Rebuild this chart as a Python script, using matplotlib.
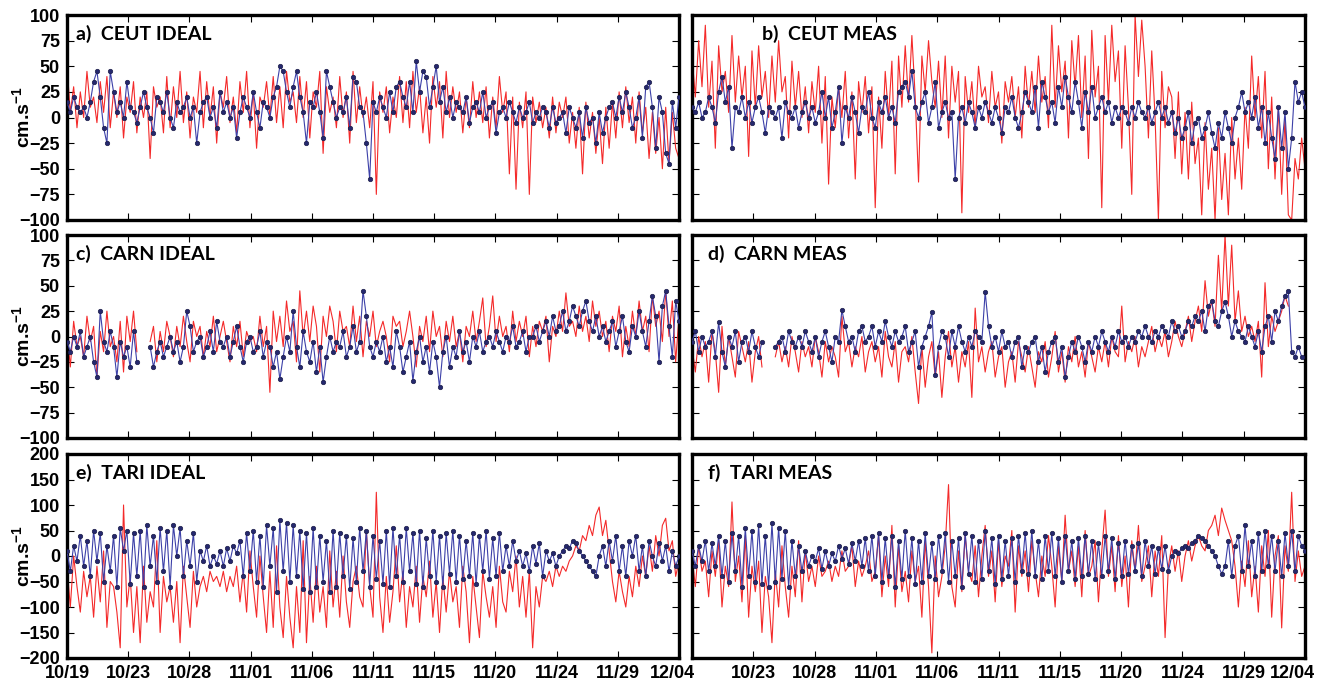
import numpy as np
import matplotlib.pyplot as plt
from matplotlib.transforms import ScaledTranslation

nan = np.nan

# 6-hourly samples, 10/19 .. 12/04 (4 values per day)
ceut_ideal_red = [
    50, 5, 30, -10, 25, 0, 45, 10, 20, -5, 35, 5, 40, -10, 25, 0,
    30, -20, 20, 5, 35, -15, 20, 0, 25, -40, 30, 10, 20, -15, 40, -10,
    30, 0, 45, -5, 25, -20, 20, 5, 45, -10, 35, 0, 30, -25, 25, 10,
    40, -5, 20, -15, 35, 5, 45, -10, 25, -30, 20, 10, 35, 0, 40, -5,
    30, -10, 45, 15, 25, -5, 40, 0, 35, -20, 25, 10, 45, -35, 30, 5,
    20, -10, 40, 0, 25, -25, 45, -5, 30, 0, 20, -10, 35, -75, 25, 5,
    30, -15, 20, 0, 40, -5, 35, -10, 45, 5, 30, -15, 20, -25, 40, 10,
    35, -20, 45, 0, 30, 5, 25, -15, 20, -10, 35, 0, 25, -5, 30, -20,
    20, -10, 40, 5, 25, -55, 20, -70, 15, -10, 25, -75, 20, -5, 15, -10,
    10, -20, 20, -15, 15, 0, 20, -25, 5, -30, 10, -55, 15, -20, 5, -35,
    0, -45, 10, -30, 15, -20, 25, -10, 30, -5, 20, -25, 25, -15, 10, -40,
    5, -35, 0, -50, 10, -45, 5, -30, -40]
ceut_ideal_blue = [
    15, 5, 20, 10, 5, 10, 0, 15, 35, 45, 20, -10, -25, 45, 25, 5,
    15, 0, 35, 10, 5, -5, 10, 25, 10, 0, -15, 20, 15, 5, 25, 0,
    -10, 15, 5, 10, 20, 0, 10, -25, 5, 15, 20, 0, 10, -10, 25, 5,
    15, 0, 10, -20, 5, 20, 10, 0, 25, 5, -10, 15, 10, 0, 20, 30,
    50, 45, 25, 10, 30, 45, 20, 5, -25, 15, 10, 25, 5, -20, 45, 30,
    15, 0, 10, 5, 20, -10, 40, 35, 10, 5, -25, -60, 15, 5, 20, 10,
    0, 25, 5, 30, 35, 20, 10, 35, 5, 55, 25, 45, 40, 10, 30, 50,
    15, 30, 5, 20, 0, 15, 10, 5, 20, -5, 10, 15, 5, 25, 0, 10,
    15, -15, 5, 10, 0, 15, 5, -5, 10, 0, 5, 15, -5, 5, 0, 10,
    5, -10, 10, -5, 0, 5, -15, 10, 0, -10, 5, -20, 10, -5, 0, -25,
    5, -15, 0, 10, 15, 0, 20, 5, 25, 10, -10, 0, 20, -20, 30, 35,
    10, -30, 20, 5, -35, -45, 15, -10, 20]

ceut_meas_red = [
    60, 20, 75, 30, 90, 10, 55, -30, 70, 25, 45, 5, 80, 15, 60, 20,
    50, -38, 65, 10, 70, 20, 45, 0, 60, 15, 75, 25, 40, -20, 55, 10,
    45, 0, 30, -15, 35, 5, 50, -25, 40, -65, 20, -10, 30, 0, 45, -20,
    25, -60, 35, 5, 40, -15, 30, -88, 20, -30, 45, 0, 55, -55, 60, 10,
    70, 15, 80, 20, -63, 60, 25, 75, 35, 10, 55, 0, 60, -20, 50, 15,
    45, -93, 40, 5, 35, -10, 50, 20, 30, -5, 45, 10, 25, -25, 35, 15,
    40, 0, 30, -20, 50, 10, 45, 5, 60, 15, 40, -10, 90, 10, 70, 25,
    55, -20, 75, 30, 80, 0, 60, -40, 85, 20, 50, -88, 80, 15, 90, 35,
    65, -30, 70, 10, -75, 100, 40, 95, 50, -20, 65, 0, -100, 45, -10, 30,
    20, -40, 25, -55, 5, -60, 15, -45, -20, -95, -5, -70, -30, -100, -10, -80,
    -35, -95, 0, -60, -20, -70, 10, -30, 60, 0, 40, -20, 45, -50, 20, -60,
    10, -75, 0, -95, -100, -40, -60, -20, -50]
ceut_meas_blue = [
    10, 5, 15, 0, 5, 20, 10, -5, 25, 40, 15, 30, -30, 10, 5, 20,
    0, 15, -5, 10, 20, 5, -15, 10, 5, 0, 10, -20, 15, 5, 0, 10,
    -10, 5, 15, 0, 10, -5, 5, 25, 0, 20, -10, 5, 30, -25, 10, 0,
    20, 5, -15, 10, 5, 25, 0, -10, 15, 5, 20, 0, 10, -5, 25, 30,
    35, 20, 45, 10, 0, 15, 25, -5, 10, 35, -10, 5, 15, 0, 5, -60,
    0, 10, -5, 15, 5, -10, 10, 0, 15, 5, -5, 10, 0, -15, 10, 5,
    20, 0, -10, 5, 25, 15, 5, 30, -10, 35, 20, 5, 15, -5, 30, 10,
    40, 20, 5, 35, 15, -10, 25, 5, 30, 0, 10, 20, 5, 15, -5, 10,
    0, 10, 5, -5, 10, 0, 15, 5, 0, 10, -5, 5, 15, 0, 10, -5,
    5, -15, 0, -20, -10, 5, -25, -5, 0, -20, -10, 5, -15, -30, -5, -20,
    5, -10, -25, 0, 10, 25, 5, 15, 0, 20, -10, 10, -25, 5, -20, -40,
    10, -30, 5, -50, -20, 35, 15, 25, 10]

carn_ideal_red = [
    5, -30, 15, -10, 0, -20, 20, -5, 10, -40, 5, -15, 25, -10, 0, -25,
    15, -35, 20, -5, 25, -15, nan, nan, nan, -5, 10, -25, 5, -15, 15, 0,
    -20, 10, -10, 20, -5, -25, 15, 0, 10, -20, 5, -10, 20, -15, 0, 15,
    -5, -25, 10, -10, 15, -20, 5, -5, 0, -15, 20, -10, 10, -55, 25, -5,
    20, -10, 35, 5, 15, -25, 45, 0, 25, -5, 30, 10, -35, 20, 0, 30,
    15, -15, 25, 5, 10, -10, 30, -5, 20, -20, 15, 0, 25, -10, 5, 15,
    0, -25, 20, 10, 15, -10, 5, 25, 0, -30, 10, -5, 20, -15, 25, 0,
    10, -20, 15, -5, 20, -10, 5, -25, 10, 0, 25, -5, 15, 38, -10, 10,
    40, -5, 20, 0, 10, -15, 25, -5, 15, 0, 20, -20, 10, -10, 15, 5,
    20, -25, 10, 0, 25, 5, 43, 10, 15, 0, 30, 5, 20, -5, 35, 10,
    25, 0, 15, -15, 20, 5, 30, -20, 10, -10, 25, 0, 35, 5, 20, -15,
    40, 10, 25, -5, 45, 0, 35, -25, 20]
carn_ideal_blue = [
    -5, -15, 0, -10, 5, -20, -10, 0, -25, -40, 25, -5, -15, 5, -10, -40,
    -5, -20, -10, -30, 5, -25, nan, nan, nan, -10, -30, -15, -5, -20, -10, 0,
    -15, -5, -25, -10, 25, 10, -15, -5, 0, -20, -10, 5, -15, 15, -5, -10,
    0, -20, -5, 10, -10, -25, -5, 0, -15, -10, 5, -20, -5, -10, -30, -15,
    -42, -20, 0, -15, 25, -10, -30, 5, -15, -25, -5, -35, -10, -45, -20, 0,
    -15, -5, -10, 5, -20, -10, 10, -15, -5, 45, 20, -10, -20, -5, -15, 0,
    -25, -10, -30, 5, -10, -35, -20, -5, -44, -15, 0, -25, -10, -35, -5, -20,
    -50, -15, 0, -30, -10, -20, 5, -15, -5, -25, 0, -10, 5, -15, -5, 0,
    -10, 5, -5, -15, 0, -5, 10, -10, -5, 5, -15, 0, 0, 10, -5, 5,
    15, 0, 20, 5, 10, 25, 5, 15, 30, 20, 10, 25, 35, 15, 5, 20,
    0, 10, -5, 5, 15, -10, 5, 20, -5, -15, 10, 0, 25, 5, -10, 15,
    40, 20, -25, 30, 45, 10, -20, 35, 15]

carn_meas_red = [
    -10, -35, 0, -20, -5, -45, 5, -15, -55, 10, -30, 0, -20, -40, 5, -10,
    -25, -5, -45, -15, 0, -30, nan, nan, nan, -20, -5, -25, -10, -30, 0, -15,
    -35, -5, -20, -10, -30, 0, -15, -40, -5, -25, -10, -20, -40, 20, -15, -5,
    -30, -10, -20, 0, -35, -15, -5, -25, -10, -40, 5, -20, -30, -5, -45, -15,
    -10, -25, 0, -35, -66, -10, -50, -20, -5, -40, -15, -60, -20, 5, -30, -10,
    -45, -15, -30, -5, -60, 28, -25, -10, -35, -15, -5, -40, -20, -10, -50, -25,
    -15, -45, -5, -20, -35, -10, -30, -50, -15, -25, -5, -40, -20, 5, -35, -15,
    -45, -10, -25, 0, -30, -15, -40, -5, -20, -35, -10, -25, -5, -30, 0, -15,
    -20, 30, -25, -5, -15, 0, -30, -10, -20, -5, 10, -15, 0, -10, 5, -20,
    -5, 15, 0, -10, 5, 20, -5, 15, 30, 5, 55, 20, 35, 10, 80, 25,
    100, 30, 90, 15, 45, 5, 20, 0, 10, -5, 15, -40, 53, -10, 20, 5,
    15, 25, 40, 30, nan, nan, nan, nan, nan]
carn_meas_blue = [
    -5, 5, -15, 0, -10, -5, 5, -20, 14, -15, -30, 0, -10, 5, -25, -5,
    0, -15, 5, -10, -20, -5, nan, nan, nan, -10, -5, 0, -15, 5, -5, -10,
    0, -10, 5, -5, -15, 0, -20, -5, 5, -10, -25, 0, -5, 26, 10, -5,
    0, -15, 5, 10, -5, 0, 10, -10, 5, -5, 15, 0, -10, 5, -5, 0,
    10, -15, -5, 5, -30, -10, 0, 10, 24, -38, -10, 5, 0, -20, 5, -10,
    10, -5, -15, 0, -10, 5, 0, -5, 44, 10, -10, 0, -15, 5, -10, -5,
    -20, -5, 0, -30, -10, -15, -5, 0, -25, -10, -35, -15, -5, 0, -25, -10,
    -40, -20, -5, -15, 0, -10, -25, -5, -15, 0, -10, 5, -5, -15, 0, -10,
    5, -5, 0, -10, 0, -5, 5, 0, 10, 0, -5, 5, 0, 10, 5, 0,
    15, 5, 10, 0, 5, 15, 10, 20, 15, 25, 5, 30, 35, 15, 10, 25,
    34, 20, 0, 15, 5, 0, -5, 10, 0, -10, 5, -15, 10, 20, -5, 25,
    15, 30, 40, 45, -15, -20, -10, -20, nan]

tari_ideal_red = [
    -20, -100, 0, -60, -110, -30, -80, -40, -120, -20, -90, 10, -140, -50, -60, -110,
    -180, 100, -100, -40, -150, -60, -170, -20, -130, -70, -100, 30, -150, -40, -90, -60,
    -130, -50, -170, -20, -80, -140, -30, -100, -60, -40, -70, -30, -50, -40, -60, -30,
    -70, -40, -60, -20, -90, -30, -110, 10, -60, -120, 0, -80, -150, -30, -140, 20,
    -100, -160, -40, -120, -180, -60, -150, 30, -170, -40, -130, -20, -110, -60, -140, 10,
    -100, -30, -120, 0, -90, -140, -50, -20, -80, -100, 50, -60, -120, 125, -80, -150,
    -40, -130, -70, 20, -90, -30, -140, -60, -100, -20, -130, -40, -80, -10, -120, -50,
    -150, -40, -110, -30, -90, -60, -140, -20, -70, -170, -40, -100, -160, -30, -80, -120,
    -60, -140, -20, -90, -110, -30, -70, 0, -100, -40, -120, -30, -180, -60, -100, -40,
    -50, -30, -60, -20, -40, -20, -30, -10, 0, 20, 10, 40, 30, 60, 40, 80,
    96, 40, 70, 10, -50, -90, -30, -70, -100, -40, -80, -20, -60, 0, -40, 20,
    -30, 40, 0, 60, 74, 10, 30, -40, -10]
tari_ideal_blue = [
    10, -30, 20, -10, 40, -20, 30, -40, 50, -10, 45, -50, 20, -30, 40, -60,
    55, 10, 50, -55, 45, -40, 50, -60, 60, -20, 40, -50, 55, -30, 50, -60,
    60, 0, 55, -40, 30, -20, 45, -50, 10, -10, 20, -20, 0, -15, 10, -20,
    15, -10, 20, 5, 30, -40, 45, -30, 50, -50, 40, -60, 60, -20, 55, -70,
    70, -30, 65, -50, 60, -40, 50, -65, 45, -70, 55, -60, 40, -50, 30, -70,
    50, -60, 45, -40, 40, -65, 35, -50, 55, -30, 50, -60, 40, -45, 30, -55,
    50, -60, 55, -40, 40, -50, 55, -30, 45, -55, 50, -60, 35, -40, 50, -50,
    40, -60, 45, -35, 50, -50, 40, -45, 30, -40, 45, -55, 40, -30, 50, -45,
    35, -40, 45, -30, 20, -20, 30, -10, 10, -20, 5, -30, 20, -15, 25, -40,
    10, -10, 5, -20, 0, 10, 20, 15, 30, 25, 10, 0, -10, -20, -30, -40,
    0, 20, -20, 30, -10, 40, -30, 20, -40, 30, 0, 40, -30, 20, -40, 30,
    0, -20, 25, -10, 20, -30, 10, -20, 0]

tari_meas_red = [
    0, -60, 20, -30, -10, -80, 10, -40, 30, -100, -20, -60, 106, -50, 0, -90,
    40, -120, -20, -70, -10, -150, -40, -80, -170, -30, -100, 20, -60, -120, -20, -80,
    30, -90, 10, -50, -20, -60, 0, -40, -30, -10, -50, -20, -40, 10, -30, -20,
    20, -60, -10, -40, -20, 10, -50, -30, 40, -80, 0, -60, 60, -100, 20, -70,
    -30, -90, 10, -50, -20, -120, 30, -60, -190, 0, -80, -40, 20, 140, -60, -100,
    10, -70, 40, -30, -50, 20, -80, 0, 60, -40, 10, -90, 30, -60, 0, -20,
    50, -110, 20, -40, 10, -70, 30, -30, -80, 0, -40, 40, -20, -100, 20, -50,
    80, -30, 10, -60, 20, -80, 50, -40, -20, 30, -90, 10, 90, -40, 20, -70,
    40, -60, 0, -100, 30, -30, 60, -50, -20, 20, -80, 10, -40, 40, -160, -20,
    20, -30, 10, -50, 0, 30, -10, 20, 40, 20, 10, 50, 60, 80, 40, 94,
    70, 50, 30, -20, -100, -10, -60, 30, -80, -20, -110, 20, -40, 50, -120, 0,
    40, -141, 20, -30, 125, -50, 10, -40, -20]
tari_meas_blue = [
    10, -20, 20, -10, 30, -30, 25, -20, 40, -40, 30, -50, 45, -30, 40, -60,
    55, -40, 50, -50, 60, -55, 40, -60, 64, -50, 55, -45, 50, -60, 30, -40,
    20, -30, 10, -20, 0, -10, 15, -25, 10, -20, 5, -10, 20, -5, 15, -15,
    25, -10, 30, -20, 35, -30, 40, -40, 45, -50, 35, -40, 40, -60, 30, -45,
    50, -40, 35, -55, 30, -50, 45, -40, 25, -45, 40, -30, 45, -50, 30, -40,
    35, -60, 45, -35, 40, -50, 30, -45, 50, -30, 35, -55, 40, -45, 30, -40,
    35, -50, 40, -30, 45, -35, 50, -40, 30, -45, 40, -30, 45, -40, 35, -50,
    40, -30, 30, -45, 35, -40, 40, -35, 30, -45, 25, -40, 40, -30, 35, -45,
    25, -40, 30, -35, 20, -30, 25, -40, 30, -20, 20, -35, 15, -25, 20, -30,
    0, 10, 5, 15, 20, 15, 25, 30, 40, 35, 30, 20, 10, 0, -20, -35,
    -20, 30, -40, 20, 40, -30, 60, -20, 30, -40, 45, -30, 50, -20, 40, -30,
    30, -40, 45, -20, 50, -30, 40, 20, 10]

panel_titles = ['a)  CEUT IDEAL', 'b)  CEUT MEAS', 'c)  CARN IDEAL',
                'd)  CARN MEAS', 'e)  TARI IDEAL', 'f)  TARI MEAS']
date_labels = ['10/19', '10/23', '10/28', '11/01', '11/06', '11/11',
               '11/15', '11/20', '11/24', '11/29', '12/04']

series = [
    (ceut_ideal_red, ceut_ideal_blue), (ceut_meas_red, ceut_meas_blue),
    (carn_ideal_red, carn_ideal_blue), (carn_meas_red, carn_meas_blue),
    (tari_ideal_red, tari_ideal_blue), (tari_meas_red, tari_meas_blue),
]

plt.rcParams['font.family'] = ['Liberation Sans', 'DejaVu Sans']
plt.rcParams['mathtext.fontset'] = 'custom'
plt.rcParams['mathtext.rm'] = 'Liberation Sans:bold'
plt.rcParams['mathtext.default'] = 'rm'

fig = plt.figure(figsize=(13.28, 6.90), dpi=100)

W, H = 1328.0, 690.0
cols = [(67, 679), (692, 1305)]
rows = [(15, 220), (235, 438), (454, 658)]
title_x = [0.014, 0.114, 0.014, 0.026, 0.014, 0.026]

for k, (red, blue) in enumerate(series):
    r, c = divmod(k, 2)
    x0, x1 = cols[c]
    y0, y1 = rows[r]
    ax = fig.add_axes([x0 / W, 1 - y1 / H, (x1 - x0) / W, (y1 - y0) / H])

    t_red = np.arange(len(red)) / 4.0
    t_blue = np.arange(len(blue)) / 4.0
    ax.plot(t_red, np.array(red, dtype=float), color='#f42a2a', lw=0.8,
            zorder=2)
    ax.plot(t_blue, np.array(blue, dtype=float), color='#3c40a8', lw=0.8,
            marker='o', ms=3.2, mfc='#25286e', mec='#1b1c48', mew=0.5,
            zorder=3)

    ax.set_xlim(0, 46)
    if r == 2:
        ax.set_ylim(-200, 200)
        ax.set_yticks(np.arange(-200, 201, 50))
    else:
        ax.set_ylim(-100, 100)
        ax.set_yticks(np.arange(-100, 101, 25))
    ax.set_xticks(np.linspace(0, 46, 11))

    ax.tick_params(direction='in', length=5, width=0.8, top=True, right=True,
                   labelsize=13, pad=5)
    for lab in ax.get_yticklabels() + ax.get_xticklabels():
        lab.set_fontweight('bold')

    if c == 0:
        yc = 1 - (y0 + y1) / 2.0 / H
        fig.text(22 / W, yc, 'cm.s$^{-1}$', rotation=90, fontsize=14,
                 fontweight='bold', ha='center', va='center')
    else:
        ax.set_yticklabels([])

    if r == 2:
        labels = list(date_labels)
        if c == 1:
            labels[0] = ''
        ax.set_xticklabels(labels, fontweight='bold')
        last = ax.get_xticklabels()[-1]
        shift = -7 if c == 0 else -13
        last.set_transform(last.get_transform() +
                           ScaledTranslation(shift / 100.0, 0,
                                             fig.dpi_scale_trans))
    else:
        ax.set_xticklabels([])

    for sp in ax.spines.values():
        sp.set_linewidth(2.4)

    ax.text(title_x[k], 0.95, panel_titles[k], transform=ax.transAxes,
            fontsize=14, fontweight='bold', family='Lato', va='top', ha='left',
            zorder=5)

fig.savefig('out.png', dpi=100)
